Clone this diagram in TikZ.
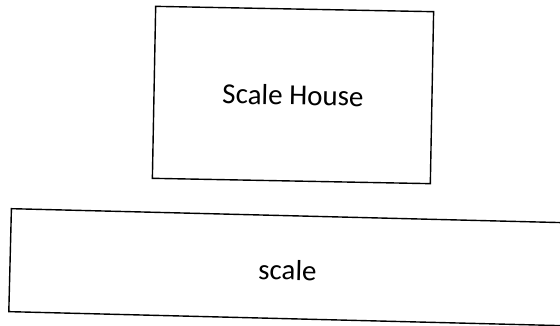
\documentclass[tikz,border=0pt]{standalone}
\usepackage{fontspec}
\setmainfont{Carlito}
\begin{document}
\begin{tikzpicture}[x=1pt, y=-1pt, line width=1.4pt]
    \tikzset{plan/.style={draw, rectangle, inner sep=0pt},
             tag/.style={inner sep=0pt, font=\fontsize{29}{34}\selectfont}}
    \useasboundingbox (0,0) rectangle (560,326);

    % scale house
    \node[plan, minimum width=278pt, minimum height=172pt, rotate=-1.1] (house) at (293,95) {};
    \node[tag, rotate=-1.1] (housetext) at (house.center) {Scale House};

    % scale, runs off the right edge
    \node[plan, minimum width=580pt, minimum height=103pt, rotate=-1.45] (scale) at (300,267.5) {};
    \node[tag, rotate=-1.45] (scaletext) at (287.5,270) {scale};
\end{tikzpicture}
\end{document}
